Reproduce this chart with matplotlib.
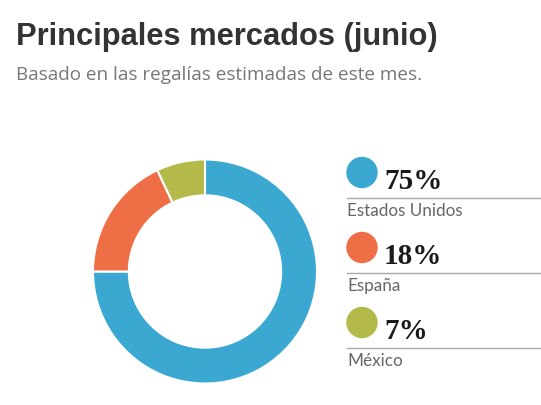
import matplotlib.pyplot as plt
from matplotlib.patches import Ellipse
from matplotlib.lines import Line2D

# Data
markets = ['Estados Unidos', 'España', 'México']
shares = [75, 18, 7]
colors = ['#3AA8D0', '#EE6E45', '#B4BA4A']

W, H = 541, 405

def fx(px):
    return px / W

def fy(py):
    # pixel rows counted from the top
    return 1 - py / H

fig = plt.figure(figsize=(W / 100, H / 100), dpi=100)

# Title and subtitle
fig.text(fx(16), fy(45), 'Principales mercados (junio)', fontsize=22.2,
         fontweight='bold', color='#333333', family='Liberation Sans', va='baseline')
fig.text(fx(16), fy(80), 'Basado en las regalías estimadas de este mes.', fontsize=13.6,
         color='#777777', family='Open Sans', va='baseline')

# Donut
cx, cy, r = 205, 271.5, 112
ax = fig.add_axes([fx(cx - r), fy(cy + r), 2 * r / W, 2 * r / H])
ax.pie(shares, colors=colors, startangle=90, counterclock=False, radius=1,
       wedgeprops=dict(width=0.32, edgecolor='white', linewidth=1.5))
ax.set_xlim(-1, 1)
ax.set_ylim(-1, 1)
ax.set_aspect('auto')
ax.axis('off')

# Legend
y0 = 172.5
step = 75
for i, (name, val, col) in enumerate(zip(markets, shares, colors)):
    yc = y0 + i * step
    fig.add_artist(Ellipse((fx(362), fy(yc)), 30 / W, 30 / H, color=col,
                           transform=fig.transFigure))
    fig.text(fx(384), fy(yc + 16.5), f'{val}%', fontsize=21, fontweight='bold',
             color='#1a1a1a', family='Liberation Serif', va='baseline')
    fig.add_artist(Line2D([fx(347), 1], [fy(yc + 25.5), fy(yc + 25.5)],
                          color='#aaaaaa', linewidth=1, transform=fig.transFigure))
    fig.text(fx(347), fy(yc + 43), name, fontsize=12.3, color='#666666',
             family='Lato', va='baseline')

fig.savefig('out.png', dpi=100)
